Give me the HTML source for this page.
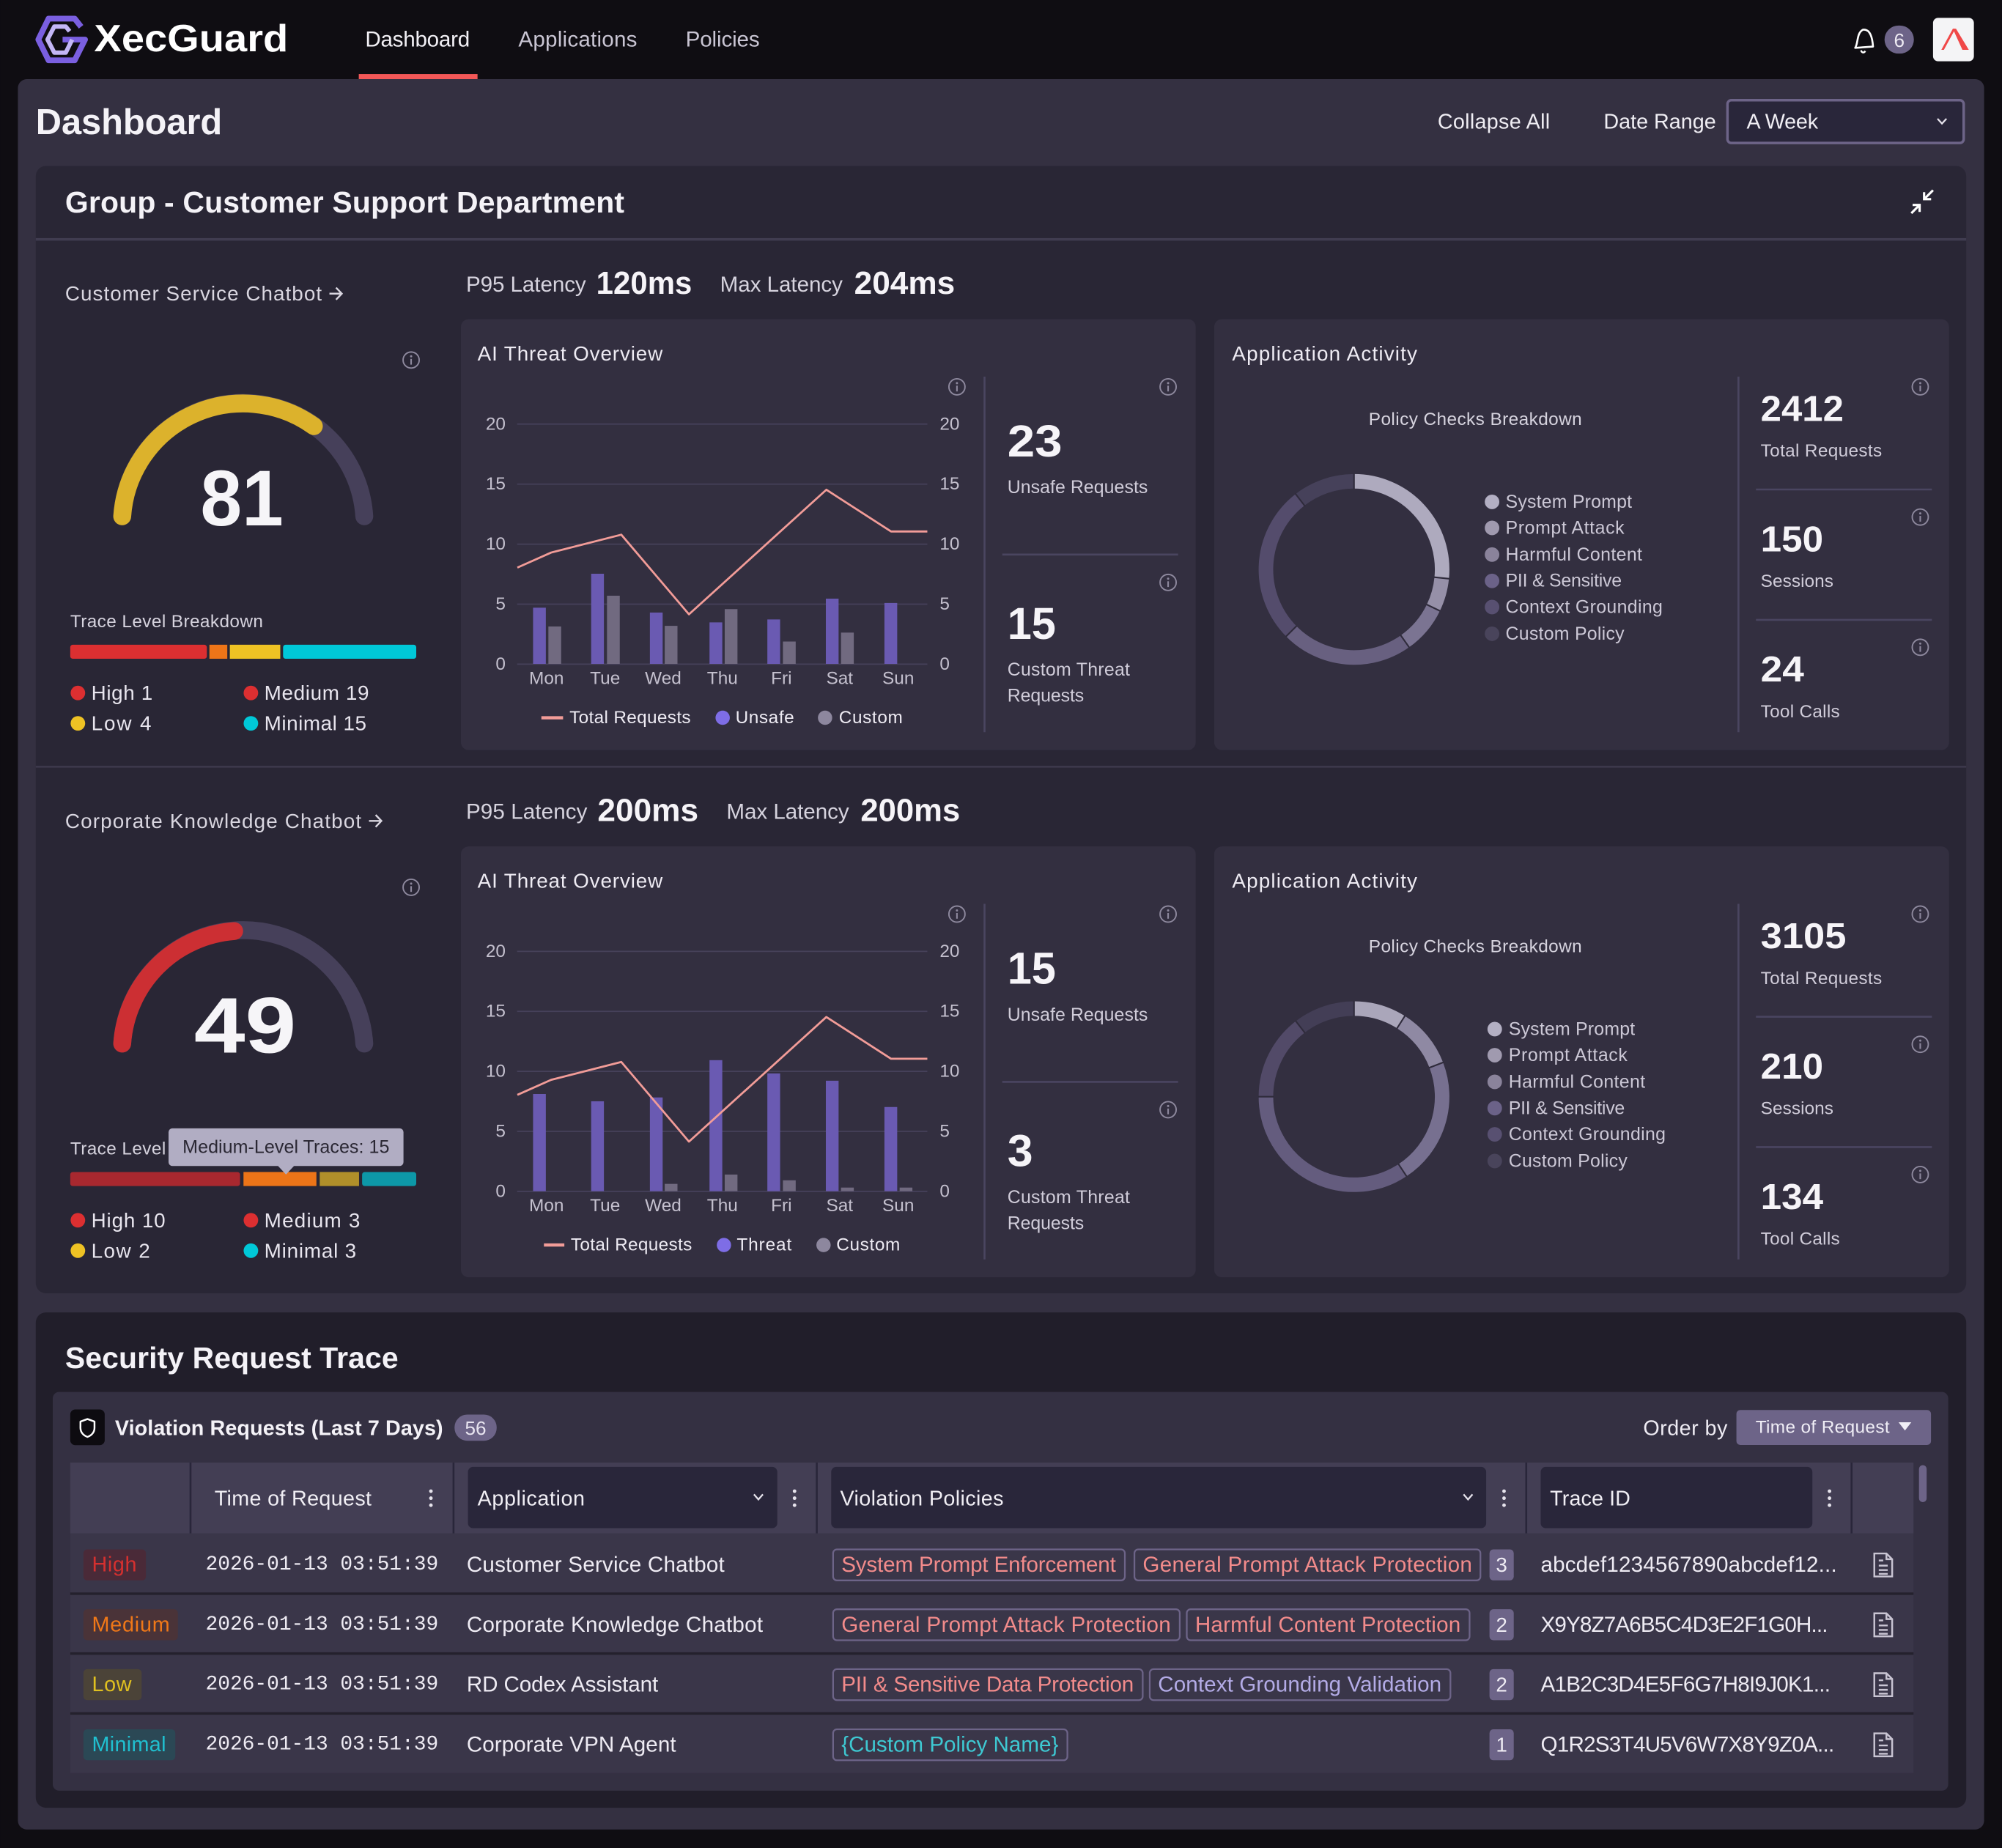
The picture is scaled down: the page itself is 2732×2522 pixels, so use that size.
<!DOCTYPE html>
<html><head><meta charset="utf-8">
<style>
html,body{margin:0;padding:0;background:#0f0d12;width:2732px;height:2522px;overflow:hidden}
svg{display:block}
text{font-family:"Liberation Sans",Arial,sans-serif;dominant-baseline:central}
.mono{font-family:"Liberation Mono",monospace}
</style></head><body>
<svg width="2732" height="2522" viewBox="0 0 1568 1447.5" xmlns="http://www.w3.org/2000/svg">
<defs>
<g id="info"><circle r="6.3" fill="none" stroke="#8e899e" stroke-width="1.1"/><circle cy="-2.9" r="0.85" fill="#8e899e"/><path d="M0 -0.9V3.6" stroke="#8e899e" stroke-width="1.2"/></g>
<g id="kebab" fill="#e6e3ec"><circle cy="-5.5" r="1.4"/><circle r="1.4"/><circle cy="5.5" r="1.4"/></g>
<g id="doc" fill="none" stroke="#c9c5d3" stroke-width="1.4"><path d="M-7 -9H2.5L7 -4.5V9H-7Z M2.5 -9V-4.5H7"/><path d="M-3.5 -3.5H0M-3.5 0.5H3.5M-3.5 4H3.5M-3.5 7H3.5"/></g>
</defs>

<rect width="1568" height="1447.5" fill="#0f0d12"/>

<!-- NAV -->
<g fill="none" stroke-linejoin="round">
<polyline points="63.5,21 58.5,14.6 38,14.6 30,31 38,47.2 58.5,47.2 66.6,31 49,31" stroke="#7a5fe0" stroke-width="4.5"/>
<polyline points="54.5,24.5 51.5,20.8 42.5,20.8 37.2,31 42.5,41.2 51.5,41.2 56.5,31" stroke="#c3b6f6" stroke-width="3.4"/>
</g>
<text x="73.7" y="30.5" font-size="30" font-weight="bold" fill="#ffffff" textLength="152" lengthAdjust="spacingAndGlyphs">XecGuard</text>
<text x="286" y="31" font-size="17" fill="#f2f0f5" textLength="82">Dashboard</text>
<text x="406" y="31" font-size="17" fill="#c9c5d3" textLength="93">Applications</text>
<text x="537" y="31" font-size="17" fill="#c9c5d3" textLength="58">Policies</text>
<rect x="281" y="58" width="93" height="4" fill="#f25757"/>
<path d="M1453 37.5 C1455.5 34 1454 26 1459 23.3 C1465 22.5 1466.5 30 1467 36.5 Z" fill="none" stroke="#ffffff" stroke-width="1.5" stroke-linejoin="round"/>
<path d="M1457.5 39.5 Q1459 42.5 1461 40" fill="none" stroke="#ffffff" stroke-width="1.4"/>
<rect x="1476" y="20" width="23" height="22" rx="11" fill="#6d6488"/>
<text x="1487.5" y="31.5" font-size="15" fill="#eeebf3" text-anchor="middle">6</text>
<rect x="1514" y="14" width="32" height="34" rx="4" fill="#f4f4f6"/>
<polygon points="1520.5,39 1529.5,22.5 1531.5,22.5 1522.5,39" fill="#f04848"/>
<polygon points="1529.5,22.5 1532,22.5 1542,39 1537,39" fill="#f04848"/>

<!-- OUTER PANEL -->
<rect x="14" y="62" width="1540" height="1371" rx="7" fill="#343041"/>
<text x="28" y="96" font-size="28" font-weight="bold" fill="#f4f2f7" textLength="146">Dashboard</text>
<text x="1126" y="95.5" font-size="16.5" fill="#f0eef4" textLength="88">Collapse All</text>
<text x="1256" y="95.5" font-size="16.5" fill="#f0eef4" textLength="88">Date Range</text>
<rect x="1353" y="78.5" width="185" height="33.5" rx="3" fill="#29263a" stroke="#6d6488" stroke-width="2"/>
<text x="1368" y="95.5" font-size="16.5" fill="#f0eef4" textLength="56">A Week</text>
<polyline points="1517.5,93 1521,96.8 1524.5,93" fill="none" stroke="#e6e3ec" stroke-width="1.3"/>

<!-- GROUP CARD -->
<rect x="28" y="130" width="1512" height="883" rx="8" fill="#292635"/>
<text x="51" y="158.5" font-size="23.5" font-weight="bold" fill="#f4f2f7" textLength="438">Group - Customer Support Department</text>
<g stroke="#ffffff" stroke-width="1.8" fill="none">
<path d="M1514 149L1507 156M1507 150.5V156H1512.5"/>
<path d="M1497 167L1503.5 160.5M1498 160.5H1503.5V166"/>
</g>
<rect x="28" y="186.5" width="1512" height="2" fill="#403c50"/>
<rect x="28" y="599.8" width="1512" height="1.5" fill="#3c384b"/>

<!-- ============ SECTION 1 ============ -->
<g>
<text x="51" y="230" font-size="16" fill="#d9d6e0" textLength="201">Customer Service Chatbot</text>
<path d="M258 230h9.5M263.2 225.3l4.5 4.7-4.5 4.7" stroke="#d9d6e0" stroke-width="1.4" fill="none"/>
<use href="#info" x="322" y="282"/>
<path d="M95.7 404.4A95 95 0 0 1 285.3 404.4" stroke="#46405a" stroke-width="14" fill="none" stroke-linecap="round"/>
<path d="M95.7 404.4A95 95 0 0 1 245.8 333.8" stroke="#dcb22c" stroke-width="14" fill="none" stroke-linecap="round"/>
<text x="189.5" y="411.5" font-size="62" font-weight="bold" text-anchor="middle" fill="#f6f5f8" style="dominant-baseline:alphabetic" textLength="65" lengthAdjust="spacingAndGlyphs">81</text>
<text x="55" y="487" font-size="14" fill="#d6d3de" textLength="151">Trace Level Breakdown</text>
<rect x="55" y="505" width="107" height="11" rx="2" fill="#dc2f31"/>
<rect x="164" y="505" width="14" height="11" fill="#ee7518"/>
<rect x="180" y="505" width="39.5" height="11" fill="#eec224"/>
<rect x="221.7" y="505" width="104.3" height="11" rx="2" fill="#00c8d8"/>
<circle cx="61" cy="542.8" r="5.7" fill="#dc2f31"/><text x="71.5" y="542.8" font-size="16" fill="#e8e5ee" textLength="48">High 1</text>
<circle cx="196.5" cy="542.8" r="5.7" fill="#dc2f31"/><text x="207" y="542.8" font-size="16" fill="#e8e5ee" textLength="82">Medium 19</text>
<circle cx="61" cy="566.6" r="5.7" fill="#eec224"/><text x="71.5" y="566.6" font-size="16" fill="#e8e5ee" textLength="47">Low 4</text>
<circle cx="196.5" cy="566.6" r="5.7" fill="#00c8d8"/><text x="207" y="566.6" font-size="16" fill="#e8e5ee" textLength="80">Minimal 15</text>

<text x="365" y="223" font-size="17" fill="#d6d3de" textLength="94">P95 Latency</text>
<text x="467" y="222" font-size="25" font-weight="bold" fill="#f6f4f8" textLength="75" lengthAdjust="spacingAndGlyphs">120ms</text>
<text x="564" y="223" font-size="17" fill="#d6d3de" textLength="96">Max Latency</text>
<text x="669" y="222" font-size="25" font-weight="bold" fill="#f6f4f8" textLength="79" lengthAdjust="spacingAndGlyphs">204ms</text>

<rect x="361" y="250" width="575.5" height="337.5" rx="6" fill="#332f40"/>
<text x="374" y="277" font-size="16" fill="#eeebf3" textLength="145">AI Threat Overview</text>
<g stroke="#46415a" stroke-width="1">
<line x1="405" y1="332.2" x2="726.3" y2="332.2"/><line x1="405" y1="379.2" x2="726.3" y2="379.2"/><line x1="405" y1="426.2" x2="726.3" y2="426.2"/><line x1="405" y1="473.2" x2="726.3" y2="473.2"/><line x1="405" y1="520.2" x2="726.3" y2="520.2"/>
</g>
<g font-size="14" fill="#c4c0ce" text-anchor="end">
<text x="396" y="332.2">20</text><text x="396" y="379.2">15</text><text x="396" y="426.2">10</text><text x="396" y="473.2">5</text><text x="396" y="520.2">0</text>
</g>
<g font-size="14" fill="#c4c0ce">
<text x="736" y="332.2">20</text><text x="736" y="379.2">15</text><text x="736" y="426.2">10</text><text x="736" y="473.2">5</text><text x="736" y="520.2">0</text>
</g>
<g font-size="14" fill="#c4c0ce" text-anchor="middle">
<text x="428" y="531.5">Mon</text><text x="473.9" y="531.5">Tue</text><text x="519.4" y="531.5">Wed</text><text x="565.8" y="531.5">Thu</text><text x="612" y="531.5">Fri</text><text x="657.6" y="531.5">Sat</text><text x="703.5" y="531.5">Sun</text>
</g>
<g fill="#6a5ab2">
<rect x="417.5" y="476" width="10" height="44"/>
<rect x="463" y="449.4" width="10" height="70.6"/>
<rect x="509" y="479.8" width="10" height="40.2"/>
<rect x="555.7" y="487.5" width="10" height="32.5"/>
<rect x="601" y="485.2" width="10" height="34.8"/>
<rect x="646.8" y="468.9" width="10" height="51.1"/>
<rect x="692.7" y="472.3" width="10" height="47.7"/>
</g>
<g fill="#716a80">
<rect x="429.5" y="490.7" width="10" height="29.3"/>
<rect x="475.4" y="466.6" width="10" height="53.4"/>
<rect x="520.6" y="490.2" width="10" height="29.8"/>
<rect x="567.6" y="477.1" width="10" height="42.9"/>
<rect x="613.2" y="502.5" width="10" height="17.5"/>
<rect x="658.7" y="495.5" width="10" height="24.5"/>
</g>
<polyline points="405.2,444.6 431.7,432.8 486.6,418.8 539.6,481.2 647.2,383.6 697.9,416.3 726.3,416.3" fill="none" stroke="#f29c98" stroke-width="1.6" stroke-linejoin="round"/>
<line x1="424" y1="562.2" x2="441" y2="562.2" stroke="#f29c98" stroke-width="2.5"/>
<text x="446" y="562.2" font-size="14" fill="#eeebf3" textLength="95">Total Requests</text>
<circle cx="566" cy="562.2" r="5.6" fill="#7e6de6"/><text x="576" y="562.2" font-size="14" fill="#eeebf3" textLength="46">Unsafe</text>
<circle cx="646.2" cy="562.2" r="5.6" fill="#8d879e"/><text x="657" y="562.2" font-size="14" fill="#eeebf3" textLength="50">Custom</text>
<line x1="771.1" y1="295" x2="771.1" y2="573.5" stroke="#4a4560" stroke-width="1.5"/>
<use href="#info" x="749.5" y="303"/><use href="#info" x="914.9" y="303"/><use href="#info" x="914.9" y="456.2"/>
<text x="789" y="345.5" font-size="35" font-weight="bold" fill="#f6f4f8" textLength="43" lengthAdjust="spacingAndGlyphs">23</text>
<text x="789" y="381.8" font-size="14.3" fill="#d0ccd9" textLength="110">Unsafe Requests</text>
<line x1="785" y1="434.4" x2="922.7" y2="434.4" stroke="#4a4560" stroke-width="1.5"/>
<text x="789" y="488.4" font-size="35" font-weight="bold" fill="#f6f4f8" textLength="38" lengthAdjust="spacingAndGlyphs">15</text>
<text x="789" y="524.7" font-size="14.3" fill="#d0ccd9" textLength="96">Custom Threat</text>
<text x="789" y="545.1" font-size="14.3" fill="#d0ccd9" textLength="60">Requests</text>

<rect x="951" y="250" width="575.5" height="337.5" rx="6" fill="#332f40"/>
<text x="965" y="277" font-size="16" fill="#eeebf3" textLength="145">Application Activity</text>
<text x="1072" y="328.5" font-size="14" fill="#d6d3de" textLength="167">Policy Checks Breakdown</text>
<g fill="none" stroke-width="11.4">
<path d="M1060.5 377A69 69 0 0 1 1129.17 452.73" stroke="#aeaabe"/>
<path d="M1129.17 452.73A69 69 0 0 1 1122.62 476.03" stroke="#9690a8"/>
<path d="M1122.62 476.03A69 69 0 0 1 1100.38 502.31" stroke="#7b7492"/>
<path d="M1100.38 502.31A69 69 0 0 1 1011.37 494.45" stroke="#686080"/>
<path d="M1011.37 494.45A69 69 0 0 1 1018.21 391.48" stroke="#544c6c"/>
<path d="M1018.21 391.48A69 69 0 0 1 1060.5 377" stroke="#46415a"/>
</g>
<g stroke="#2f2b3b" stroke-width="1.2">
<line x1="1060.5" y1="371" x2="1060.5" y2="383"/>
<line x1="1123.2" y1="452.1" x2="1135.1" y2="453.3"/>
<line x1="1117.2" y1="473.4" x2="1128.0" y2="478.6"/>
<line x1="1096.9" y1="497.4" x2="1103.8" y2="507.2"/>
<line x1="1015.6" y1="490.2" x2="1007.1" y2="498.7"/>
<line x1="1022.1" y1="396.5" x2="1014.4" y2="386.5"/>
</g>
<g font-size="14.3" fill="#ccc8d6">
<circle cx="1168.6" cy="393.1" r="5.7" fill="#b3afc3"/><text x="1179.2" y="393.1" textLength="99">System Prompt</text>
<circle cx="1168.6" cy="413.5" r="5.7" fill="#a09aaf"/><text x="1179.2" y="413.5" textLength="93">Prompt Attack</text>
<circle cx="1168.6" cy="434.4" r="5.7" fill="#8a839b"/><text x="1179.2" y="434.4" textLength="107">Harmful Content</text>
<circle cx="1168.6" cy="455" r="5.7" fill="#6b6288"/><text x="1179.2" y="455" textLength="91">PII &amp; Sensitive</text>
<circle cx="1168.6" cy="475.5" r="5.7" fill="#585071"/><text x="1179.2" y="475.5" textLength="123">Context Grounding</text>
<circle cx="1168.6" cy="496.4" r="5.7" fill="#49445b"/><text x="1179.2" y="496.4" textLength="93">Custom Policy</text>
</g>
<line x1="1361.6" y1="295" x2="1361.6" y2="573.5" stroke="#4a4560" stroke-width="1.5"/>
<use href="#info" x="1504" y="303"/><use href="#info" x="1504" y="405"/><use href="#info" x="1504" y="507"/>
<text x="1379" y="320.5" font-size="28" font-weight="bold" fill="#f6f4f8" textLength="65" lengthAdjust="spacingAndGlyphs">2412</text>
<text x="1379" y="353.4" font-size="14" fill="#d0ccd9" textLength="95">Total Requests</text>
<line x1="1375.3" y1="383.4" x2="1513.1" y2="383.4" stroke="#4a4560" stroke-width="1.5"/>
<text x="1379" y="422.6" font-size="28" font-weight="bold" fill="#f6f4f8" textLength="49" lengthAdjust="spacingAndGlyphs">150</text>
<text x="1379" y="455.5" font-size="14" fill="#d0ccd9" textLength="57">Sessions</text>
<line x1="1375.3" y1="485.5" x2="1513.1" y2="485.5" stroke="#4a4560" stroke-width="1.5"/>
<text x="1379" y="524.7" font-size="28" font-weight="bold" fill="#f6f4f8" textLength="34" lengthAdjust="spacingAndGlyphs">24</text>
<text x="1379" y="557.6" font-size="14" fill="#d0ccd9" textLength="62">Tool Calls</text>
</g>

<!-- ============ SECTION 2 ============ -->
<g transform="translate(0,413)">
<text x="51" y="230" font-size="16" fill="#d9d6e0" textLength="232">Corporate Knowledge Chatbot</text>
<path d="M289 230h9.5M294.2 225.3l4.5 4.7-4.5 4.7" stroke="#d9d6e0" stroke-width="1.4" fill="none"/>
<use href="#info" x="322" y="282"/>
<path d="M95.7 404.4A95 95 0 0 1 285.3 404.4" stroke="#46405a" stroke-width="14" fill="none" stroke-linecap="round"/>
<path d="M95.7 404.4A95 95 0 0 1 183.4 316.3" stroke="#cc2f33" stroke-width="14" fill="none" stroke-linecap="round"/>
<text x="192" y="411.5" font-size="62" font-weight="bold" text-anchor="middle" fill="#f6f5f8" style="dominant-baseline:alphabetic" textLength="80" lengthAdjust="spacingAndGlyphs">49</text>
<text x="55" y="487" font-size="14" fill="#d6d3de" textLength="151">Trace Level Breakdown</text>
<rect x="55" y="505" width="133" height="11" rx="2" fill="#a8282f"/>
<rect x="190.7" y="505" width="57.1" height="11" fill="#ec7418"/>
<rect x="250.4" y="505" width="30.8" height="11" fill="#b08f2a"/>
<rect x="283.6" y="505" width="42.4" height="11" rx="2" fill="#0d98a8"/>
<rect x="132" y="470.8" width="184" height="29.5" rx="3" fill="#b1adc3"/>
<polygon points="217.5,500 230.5,500 224,507" fill="#b1adc3"/>
<text x="143" y="485.6" font-size="14.4" fill="#2a2733" textLength="162">Medium-Level Traces: 15</text>
<circle cx="61" cy="542.8" r="5.7" fill="#dc2f31"/><text x="71.5" y="542.8" font-size="16" fill="#e8e5ee" textLength="58">High 10</text>
<circle cx="196.5" cy="542.8" r="5.7" fill="#dc2f31"/><text x="207" y="542.8" font-size="16" fill="#e8e5ee" textLength="75">Medium 3</text>
<circle cx="61" cy="566.6" r="5.7" fill="#eec224"/><text x="71.5" y="566.6" font-size="16" fill="#e8e5ee" textLength="46">Low 2</text>
<circle cx="196.5" cy="566.6" r="5.7" fill="#00c8d8"/><text x="207" y="566.6" font-size="16" fill="#e8e5ee" textLength="72">Minimal 3</text>

<text x="365" y="223" font-size="17" fill="#d6d3de" textLength="95">P95 Latency</text>
<text x="468" y="222" font-size="25" font-weight="bold" fill="#f6f4f8" textLength="79" lengthAdjust="spacingAndGlyphs">200ms</text>
<text x="569" y="223" font-size="17" fill="#d6d3de" textLength="96">Max Latency</text>
<text x="674" y="222" font-size="25" font-weight="bold" fill="#f6f4f8" textLength="78" lengthAdjust="spacingAndGlyphs">200ms</text>

<rect x="361" y="250" width="575.5" height="337.5" rx="6" fill="#332f40"/>
<text x="374" y="277" font-size="16" fill="#eeebf3" textLength="145">AI Threat Overview</text>
<g stroke="#46415a" stroke-width="1">
<line x1="405" y1="332.2" x2="726.3" y2="332.2"/><line x1="405" y1="379.2" x2="726.3" y2="379.2"/><line x1="405" y1="426.2" x2="726.3" y2="426.2"/><line x1="405" y1="473.2" x2="726.3" y2="473.2"/><line x1="405" y1="520.2" x2="726.3" y2="520.2"/>
</g>
<g font-size="14" fill="#c4c0ce" text-anchor="end">
<text x="396" y="332.2">20</text><text x="396" y="379.2">15</text><text x="396" y="426.2">10</text><text x="396" y="473.2">5</text><text x="396" y="520.2">0</text>
</g>
<g font-size="14" fill="#c4c0ce">
<text x="736" y="332.2">20</text><text x="736" y="379.2">15</text><text x="736" y="426.2">10</text><text x="736" y="473.2">5</text><text x="736" y="520.2">0</text>
</g>
<g font-size="14" fill="#c4c0ce" text-anchor="middle">
<text x="428" y="531.5">Mon</text><text x="473.9" y="531.5">Tue</text><text x="519.4" y="531.5">Wed</text><text x="565.8" y="531.5">Thu</text><text x="612" y="531.5">Fri</text><text x="657.6" y="531.5">Sat</text><text x="703.5" y="531.5">Sun</text>
</g>
<g fill="#6a5ab2">
<rect x="417.5" y="443.9" width="10" height="76.1"/>
<rect x="463" y="449.6" width="10" height="70.4"/>
<rect x="509" y="446.6" width="10" height="73.4"/>
<rect x="555.7" y="417.4" width="10" height="102.6"/>
<rect x="601" y="427.8" width="10" height="92.2"/>
<rect x="646.8" y="433.5" width="10" height="86.5"/>
<rect x="692.7" y="454.1" width="10" height="65.9"/>
</g>
<g fill="#716a80">
<rect x="520.6" y="514.3" width="10" height="5.7"/>
<rect x="567.6" y="507" width="10" height="13"/>
<rect x="613.2" y="511.5" width="10" height="8.5"/>
<rect x="658.7" y="517.2" width="10" height="2.8"/>
<rect x="704.6" y="517.2" width="10" height="2.8"/>
</g>
<polyline points="405.2,444.6 431.7,432.8 486.6,418.8 539.6,481.2 647.2,383.6 697.9,416.3 726.3,416.3" fill="none" stroke="#f29c98" stroke-width="1.6" stroke-linejoin="round"/>
<line x1="426" y1="562.2" x2="442" y2="562.2" stroke="#f29c98" stroke-width="2.5"/>
<text x="447" y="562.2" font-size="14" fill="#eeebf3" textLength="95">Total Requests</text>
<circle cx="567" cy="562.2" r="5.6" fill="#7e6de6"/><text x="577" y="562.2" font-size="14" fill="#eeebf3" textLength="43">Threat</text>
<circle cx="645" cy="562.2" r="5.6" fill="#8d879e"/><text x="655" y="562.2" font-size="14" fill="#eeebf3" textLength="50">Custom</text>
<line x1="771.1" y1="295" x2="771.1" y2="573.5" stroke="#4a4560" stroke-width="1.5"/>
<use href="#info" x="749.5" y="303"/><use href="#info" x="914.9" y="303"/><use href="#info" x="914.9" y="456.2"/>
<text x="789" y="345.5" font-size="35" font-weight="bold" fill="#f6f4f8" textLength="38" lengthAdjust="spacingAndGlyphs">15</text>
<text x="789" y="381.8" font-size="14.3" fill="#d0ccd9" textLength="110">Unsafe Requests</text>
<line x1="785" y1="434.4" x2="922.7" y2="434.4" stroke="#4a4560" stroke-width="1.5"/>
<text x="789" y="488.4" font-size="35" font-weight="bold" fill="#f6f4f8" textLength="20" lengthAdjust="spacingAndGlyphs">3</text>
<text x="789" y="524.7" font-size="14.3" fill="#d0ccd9" textLength="96">Custom Threat</text>
<text x="789" y="545.1" font-size="14.3" fill="#d0ccd9" textLength="60">Requests</text>

<rect x="951" y="250" width="575.5" height="337.5" rx="6" fill="#332f40"/>
<text x="965" y="277" font-size="16" fill="#eeebf3" textLength="145">Application Activity</text>
<text x="1072" y="328.5" font-size="14" fill="#d6d3de" textLength="167">Policy Checks Breakdown</text>
<g fill="none" stroke-width="11.4">
<path d="M1060.5 377A69 69 0 0 1 1097.27 387.61" stroke="#aaa6ba"/>
<path d="M1097.27 387.61A69 69 0 0 1 1124.92 421.27" stroke="#8f89a3"/>
<path d="M1124.92 421.27A69 69 0 0 1 1098.48 503.6" stroke="#777090"/>
<path d="M1098.48 503.6A69 69 0 0 1 991.5 446" stroke="#645c7e"/>
<path d="M991.5 446A69 69 0 0 1 1018.4 391.33" stroke="#524a68"/>
<path d="M1018.4 391.33A69 69 0 0 1 1060.5 377" stroke="#433e56"/>
</g>
<g stroke="#2f2b3b" stroke-width="1.2">
<line x1="1060.5" y1="371" x2="1060.5" y2="383"/>
<line x1="1094.1" y1="392.6" x2="1100.5" y2="382.5"/>
<line x1="1119.3" y1="423.4" x2="1130.5" y2="419.1"/>
<line x1="1095.2" y1="498.6" x2="1101.8" y2="508.6"/>
<line x1="985.5" y1="446" x2="997.5" y2="446"/>
<line x1="1022.1" y1="396.1" x2="1014.7" y2="386.6"/>
</g>
<g font-size="14.3" fill="#ccc8d6">
<circle cx="1170.7" cy="393.1" r="5.7" fill="#b3afc3"/><text x="1181.6" y="393.1" textLength="99">System Prompt</text>
<circle cx="1170.7" cy="413.5" r="5.7" fill="#a09aaf"/><text x="1181.6" y="413.5" textLength="93">Prompt Attack</text>
<circle cx="1170.7" cy="434.4" r="5.7" fill="#8a839b"/><text x="1181.6" y="434.4" textLength="107">Harmful Content</text>
<circle cx="1170.7" cy="455" r="5.7" fill="#6b6288"/><text x="1181.6" y="455" textLength="91">PII &amp; Sensitive</text>
<circle cx="1170.7" cy="475.5" r="5.7" fill="#585071"/><text x="1181.6" y="475.5" textLength="123">Context Grounding</text>
<circle cx="1170.7" cy="496.4" r="5.7" fill="#49445b"/><text x="1181.6" y="496.4" textLength="93">Custom Policy</text>
</g>
<line x1="1361.6" y1="295" x2="1361.6" y2="573.5" stroke="#4a4560" stroke-width="1.5"/>
<use href="#info" x="1504" y="303"/><use href="#info" x="1504" y="405"/><use href="#info" x="1504" y="507"/>
<text x="1379" y="320.5" font-size="28" font-weight="bold" fill="#f6f4f8" textLength="67" lengthAdjust="spacingAndGlyphs">3105</text>
<text x="1379" y="353.4" font-size="14" fill="#d0ccd9" textLength="95">Total Requests</text>
<line x1="1375.3" y1="383.4" x2="1513.1" y2="383.4" stroke="#4a4560" stroke-width="1.5"/>
<text x="1379" y="422.6" font-size="28" font-weight="bold" fill="#f6f4f8" textLength="49" lengthAdjust="spacingAndGlyphs">210</text>
<text x="1379" y="455.5" font-size="14" fill="#d0ccd9" textLength="57">Sessions</text>
<line x1="1375.3" y1="485.5" x2="1513.1" y2="485.5" stroke="#4a4560" stroke-width="1.5"/>
<text x="1379" y="524.7" font-size="28" font-weight="bold" fill="#f6f4f8" textLength="49" lengthAdjust="spacingAndGlyphs">134</text>
<text x="1379" y="557.6" font-size="14" fill="#d0ccd9" textLength="62">Tool Calls</text>
</g>

<!-- ============ SECURITY REQUEST TRACE ============ -->
<rect x="28" y="1028" width="1512" height="388" rx="8" fill="#211e2a"/>
<text x="51" y="1063.4" font-size="23.5" font-weight="bold" fill="#f4f2f7" textLength="261">Security Request Trace</text>
<rect x="41.3" y="1090.3" width="1484.6" height="312.3" rx="5" fill="#343042"/>
<rect x="55" y="1104" width="27" height="28" rx="4" fill="#0d0b10"/>
<path d="M68.5 1111.5L74 1113.5V1118.5C74 1122 71.5 1124.5 68.5 1125.5C65.5 1124.5 63 1122 63 1118.5V1113.5Z" fill="none" stroke="#ffffff" stroke-width="1.4" stroke-linejoin="round"/>
<text x="90" y="1119" font-size="16.5" font-weight="bold" fill="#f4f2f7" textLength="257">Violation Requests  (Last 7 Days)</text>
<rect x="356" y="1108" width="33" height="20.5" rx="10" fill="#6d6488"/>
<text x="372.5" y="1118.5" font-size="15" fill="#e8e4f0" text-anchor="middle">56</text>
<text x="1287" y="1119" font-size="16.5" fill="#eeebf3" textLength="66">Order by</text>
<rect x="1360" y="1104.4" width="152.4" height="27.4" rx="3" fill="#6d6488"/>
<text x="1375" y="1118" font-size="14" fill="#f0eef6" textLength="105">Time of Request</text>
<polygon points="1487,1114 1497,1114 1492,1120.5" fill="#f0eef6"/>

<rect x="55" y="1145.6" width="1443.7" height="55.4" fill="#433e54"/>
<g stroke="#29263a" stroke-width="1.5">
<line x1="149.2" y1="1145.6" x2="149.2" y2="1201"/>
<line x1="355.2" y1="1145.6" x2="355.2" y2="1201"/>
<line x1="639.7" y1="1145.6" x2="639.7" y2="1201"/>
<line x1="1195.4" y1="1145.6" x2="1195.4" y2="1201"/>
<line x1="1450.2" y1="1145.6" x2="1450.2" y2="1201"/>
</g>
<text x="168" y="1174" font-size="16.5" fill="#f0eef4" textLength="123">Time of Request</text>
<use href="#kebab" x="337.5" y="1173.5"/>
<rect x="366.5" y="1149" width="242.3" height="48" rx="4" fill="#29263a"/>
<text x="374" y="1174" font-size="16.5" fill="#f0eef4" textLength="84">Application</text>
<polyline points="590.5,1170.5 594,1174.5 597.5,1170.5" fill="none" stroke="#e6e3ec" stroke-width="1.3"/>
<use href="#kebab" x="622.3" y="1173.5"/>
<rect x="651" y="1149" width="513" height="48" rx="4" fill="#29263a"/>
<text x="658" y="1174" font-size="16.5" fill="#f0eef4" textLength="128">Violation Policies</text>
<polyline points="1146.3,1170.5 1149.8,1174.5 1153.3,1170.5" fill="none" stroke="#e6e3ec" stroke-width="1.3"/>
<use href="#kebab" x="1178" y="1173.5"/>
<rect x="1206.7" y="1149" width="212.8" height="48" rx="4" fill="#29263a"/>
<text x="1214" y="1174" font-size="16.5" fill="#f0eef4" textLength="63">Trace ID</text>
<use href="#kebab" x="1432.9" y="1173.5"/>
<rect x="1503" y="1147.6" width="6" height="29" rx="3" fill="#6d6488"/>

<rect x="55" y="1201" width="1443.7" height="187.7" fill="#3a3649"/>
<g stroke="#24212d" stroke-width="2">
<line x1="55" y1="1248.3" x2="1498.7" y2="1248.3"/>
<line x1="55" y1="1295.2" x2="1498.7" y2="1295.2"/>
<line x1="55" y1="1342.1" x2="1498.7" y2="1342.1"/>
</g>

<rect x="65.3" y="1213.6" width="49" height="24.3" rx="3" fill="#4a2a38"/>
<text x="72" y="1225.8" font-size="16.5" fill="#d5302f" textLength="35">High</text>
<text x="161" y="1225.8" class="mono" font-size="16" fill="#eeebf3">2026-01-13 03:51:39</text>
<text x="365.5" y="1225.8" font-size="17" fill="#eeebf3" textLength="202">Customer Service Chatbot</text>
<rect x="652.5" y="1213.6" width="228.5" height="24.3" rx="3" fill="none" stroke="#6d6488" stroke-width="1.3"/>
<text x="659" y="1225.8" font-size="17" fill="#f28b8b" textLength="215">System Prompt Enforcement</text>
<rect x="888.5" y="1213.6" width="271" height="24.3" rx="3" fill="none" stroke="#6d6488" stroke-width="1.3"/>
<text x="895" y="1225.8" font-size="17" fill="#f28b8b" textLength="258">General Prompt Attack Protection</text>
<rect x="1166.6" y="1213.6" width="19" height="24.3" rx="3" fill="#6d6488"/>
<text x="1176.1" y="1225.8" font-size="16" fill="#eeebf3" text-anchor="middle">3</text>
<text x="1206.7" y="1225.8" font-size="17" fill="#eeebf3" textLength="232">abcdef1234567890abcdef12...</text>
<use href="#doc" x="1475" y="1225.8"/>

<rect x="65.3" y="1260.5" width="74" height="24.3" rx="3" fill="#4a3338"/>
<text x="72" y="1272.7" font-size="16.5" fill="#f07818" textLength="61">Medium</text>
<text x="161" y="1272.7" class="mono" font-size="16" fill="#eeebf3">2026-01-13 03:51:39</text>
<text x="365.5" y="1272.7" font-size="17" fill="#eeebf3" textLength="232">Corporate Knowledge Chatbot</text>
<rect x="652.5" y="1260.5" width="271.5" height="24.3" rx="3" fill="none" stroke="#6d6488" stroke-width="1.3"/>
<text x="659" y="1272.7" font-size="17" fill="#f28b8b" textLength="258">General Prompt Attack Protection</text>
<rect x="929.5" y="1260.5" width="221.5" height="24.3" rx="3" fill="none" stroke="#6d6488" stroke-width="1.3"/>
<text x="936" y="1272.7" font-size="17" fill="#f28b8b" textLength="208">Harmful Content Protection</text>
<rect x="1166.6" y="1260.5" width="19" height="24.3" rx="3" fill="#6d6488"/>
<text x="1176.1" y="1272.7" font-size="16" fill="#eeebf3" text-anchor="middle">2</text>
<text x="1206.7" y="1272.7" font-size="17" fill="#eeebf3" textLength="225">X9Y8Z7A6B5C4D3E2F1G0H...</text>
<use href="#doc" x="1475" y="1272.7"/>

<rect x="65.3" y="1307.4" width="45.6" height="24.3" rx="3" fill="#4b4338"/>
<text x="72" y="1319.6" font-size="16.5" fill="#e0c020" textLength="31">Low</text>
<text x="161" y="1319.6" class="mono" font-size="16" fill="#eeebf3">2026-01-13 03:51:39</text>
<text x="365.5" y="1319.6" font-size="17" fill="#eeebf3" textLength="150">RD Codex Assistant</text>
<rect x="652.5" y="1307.4" width="242.5" height="24.3" rx="3" fill="none" stroke="#6d6488" stroke-width="1.3"/>
<text x="659" y="1319.6" font-size="17" fill="#f28b8b" textLength="229">PII &amp; Sensitive Data Protection</text>
<rect x="900.5" y="1307.4" width="235.5" height="24.3" rx="3" fill="none" stroke="#6d6488" stroke-width="1.3"/>
<text x="907" y="1319.6" font-size="17" fill="#b3abe6" textLength="222">Context Grounding Validation</text>
<rect x="1166.6" y="1307.4" width="19" height="24.3" rx="3" fill="#6d6488"/>
<text x="1176.1" y="1319.6" font-size="16" fill="#eeebf3" text-anchor="middle">2</text>
<text x="1206.7" y="1319.6" font-size="17" fill="#eeebf3" textLength="227">A1B2C3D4E5F6G7H8I9J0K1...</text>
<use href="#doc" x="1475" y="1319.6"/>

<rect x="65.3" y="1354.5" width="72" height="24.3" rx="3" fill="#2b4855"/>
<text x="72" y="1366.7" font-size="16.5" fill="#20c0d0" textLength="58">Minimal</text>
<text x="161" y="1366.7" class="mono" font-size="16" fill="#eeebf3">2026-01-13 03:51:39</text>
<text x="365.5" y="1366.7" font-size="17" fill="#eeebf3" textLength="164">Corporate VPN Agent</text>
<rect x="652.5" y="1354.5" width="183.5" height="24.3" rx="3" fill="none" stroke="#6d6488" stroke-width="1.3"/>
<text x="659" y="1366.7" font-size="17" fill="#3ec8d2" textLength="170">{Custom Policy Name}</text>
<rect x="1166.6" y="1354.5" width="19" height="24.3" rx="3" fill="#6d6488"/>
<text x="1176.1" y="1366.7" font-size="16" fill="#eeebf3" text-anchor="middle">1</text>
<text x="1206.7" y="1366.7" font-size="17" fill="#eeebf3" textLength="230">Q1R2S3T4U5V6W7X8Y9Z0A...</text>
<use href="#doc" x="1475" y="1366.7"/>
</svg>
</body></html>
